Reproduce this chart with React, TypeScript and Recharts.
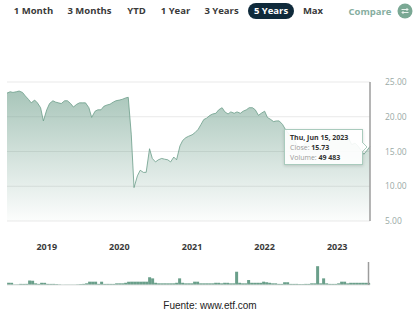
import React from "react";
import {
  AreaChart,
  Area,
  XAxis,
  YAxis,
  CartesianGrid,
  ReferenceLine,
  BarChart,
  Bar,
} from "recharts";

// Semi-monthly observation dates (1st and 15th), Jun 15 2018 .. Jun 15 2023
const dates: string[] = (() => {
  const out: string[] = ["2018-06-15"];
  for (let y = 2018; y <= 2023; y++) {
    for (let m = 1; m <= 12; m++) {
      for (const d of [1, 15]) {
        const s = `${y}-${String(m).padStart(2, "0")}-${String(d).padStart(2, "0")}`;
        if (s > "2018-06-15" && s <= "2023-06-15") out.push(s);
      }
    }
  }
  return out;
})();

const closes2018 = [23.4, 23.6, 23.5, 23.6, 23.7, 23.5, 23.0, 22.5, 22.0, 22.4, 22.0, 21.3, 19.4];
const closes2019 = [21.0, 21.9, 22.3, 22.1, 22.0, 21.9, 22.3, 22.3, 21.9, 21.4, 21.8, 22.0, 22.0, 22.0, 21.3, 19.9, 20.8, 21.0, 21.0, 21.5, 21.7, 21.8, 22.1, 22.3];
const closes2020 = [22.4, 22.5, 22.7, 22.8, 17.5, 9.8, 11.5, 12.3, 12.0, 12.0, 15.4, 14.0, 13.5, 13.8, 14.0, 13.9, 13.8, 13.5, 14.2, 13.8, 15.8, 16.6, 17.0, 17.2];
const closes2021 = [17.4, 17.7, 18.2, 18.9, 19.6, 19.8, 20.2, 20.4, 20.5, 21.0, 21.3, 20.7, 20.4, 20.7, 20.5, 20.7, 20.5, 20.8, 21.0, 21.3, 21.3, 21.0, 20.2, 20.5];
const closes2022 = [20.8, 19.9, 19.6, 19.3, 19.4, 19.4, 18.9, 18.2, 17.6, 17.0, 16.6, 15.8, 15.5, 15.8, 16.5, 17.0, 16.5, 16.0, 15.4, 15.8, 16.6, 17.0, 17.2, 16.8];
const closes2023 = [16.8, 17.4, 17.5, 17.2, 16.8, 16.0, 16.2, 15.8, 15.2, 14.6, 15.2, 15.73];
const closes = [...closes2018, ...closes2019, ...closes2020, ...closes2021, ...closes2022, ...closes2023];

const volumes = [
  51200, 49800, 12800, 13100, 25400, 24700, 25900, 101300, 98700, 37900, 25100, 50300, 49200,
  25600, 24800, 25300, 20100, 12400, 7600, 7400, 7700, 7500, 7300, 12600, 19800, 25200, 37800, 75400, 74900, 75100, 25300, 74700, 24900, 25400, 25100, 24800, 37400, 37700, 37600,
  50100, 74800, 75300, 74900, 75200, 74600, 75400, 74900, 175300, 149800, 50200, 37600, 37400, 37800, 37300, 37500, 37700, 49900, 150400, 50100, 37400, 37600, 37500,
  75200, 74800, 37600, 37400, 37700, 37300, 37600, 50200, 49800, 37500, 50300, 49700, 37400, 37800, 300200, 50100, 37600, 37500, 112400, 50300, 49900, 50200, 49800,
  75100, 62300, 50100, 37600, 37400, 25200, 24900, 62600, 62400, 25100, 24800, 25300, 20200, 19900, 25100, 24900, 37600, 37400, 425300, 37500, 150200, 37700, 25200, 24800, 25100, 37300,
  75200, 74900, 37600, 50100, 49900, 50300, 49800, 50200, 49700, 49483,
];

const yTicks = [5, 10, 15, 20, 25];
const yearTicks = [2019, 2020, 2021, 2022, 2023];
const ranges = ["1 Month", "3 Months", "YTD", "1 Year", "3 Years", "5 Years", "Max"];
const selectedRange = "5 Years";

const ts = (s: string) => {
  const [y, m, d] = s.split("-").map(Number);
  return Date.UTC(y, m - 1, d);
};

const priceData = dates.map((d, i) => ({ t: ts(d), close: closes[i] }));
const volumeData = dates.map((d, i) => ({ date: d, volume: volumes[i] }));
const yearTs = yearTicks.map((y) => Date.UTC(y, 0, 1));

const last = dates.length - 1;
const dayNames = ["Sun", "Mon", "Tue", "Wed", "Thu", "Fri", "Sat"];
const monNames = ["Jan", "Feb", "Mar", "Apr", "May", "Jun", "Jul", "Aug", "Sep", "Oct", "Nov", "Dec"];
const lastDate = new Date(ts(dates[last]));
const tipTitle = `${dayNames[lastDate.getUTCDay()]}, ${monNames[lastDate.getUTCMonth()]} ${lastDate.getUTCDate()}, ${lastDate.getUTCFullYear()}`;
const fmtVol = (v: number) => String(v).replace(/\B(?=(\d{3})+(?!\d))/g, " ");

const btnCenters = [33.5, 89.5, 136.5, 175.5, 221.5, 271, 313];
const GREEN = "#6b9d89";

export default function App() {
  return (
    <div style={{ position: "absolute", left: 0, top: 0, width: 420, height: 314, background: "#fff", overflow: "hidden" }}>
      {ranges.map((r, i) => {
        const sel = r === selectedRange;
        return (
          <div
            key={r}
            style={{
              position: "absolute",
              left: btnCenters[i] - 30,
              width: 60,
              top: 2,
              height: 18,
              display: "flex",
              alignItems: "center",
              justifyContent: "center",
            }}
          >
            <span
              style={{
                fontFamily: "'Open Sans', sans-serif",
                fontWeight: 700,
                fontSize: 9.5,
                color: sel ? "#ffffff" : "#3a3a3a",
                background: sel ? "#0f2a3b" : "transparent",
                borderRadius: 8,
                padding: sel ? "2px 6px" : 0,
                lineHeight: "12px",
                whiteSpace: "nowrap",
              }}
            >
              {r}
            </span>
          </div>
        );
      })}
      <div
        style={{
          position: "absolute",
          left: 340,
          width: 60,
          top: 2,
          height: 18,
          display: "flex",
          alignItems: "center",
          justifyContent: "center",
          fontFamily: "'Open Sans', sans-serif",
          fontWeight: 700,
          fontSize: 9.5,
          color: "#86ae9f",
        }}
      >
        Compare
      </div>
      <svg style={{ position: "absolute", left: 397, top: 3 }} width={16} height={16}>
        <circle cx={8} cy={8} r={7.5} fill="#7aa894" />
        <path d="M4.5 6.5 H11 M9.5 5 L11 6.5 L9.5 8 M11.5 9.5 H5 M6.5 8 L5 9.5 L6.5 11" stroke="#e8f1ec" strokeWidth={1} fill="none" />
      </svg>

      <div style={{ position: "absolute", left: 0, top: 0 }}>
        <AreaChart width={420} height={260} data={priceData} margin={{ top: 82, right: 0, bottom: 9, left: 7 }}>
          <defs>
            <linearGradient id="areaFill" x1="0" y1="0" x2="0" y2="1">
              <stop offset="0%" stopColor={GREEN} stopOpacity={0.98} />
              <stop offset="55%" stopColor={GREEN} stopOpacity={0.45} />
              <stop offset="100%" stopColor={GREEN} stopOpacity={0.03} />
            </linearGradient>
          </defs>
          <CartesianGrid horizontal vertical={false} stroke="#e9e9e9" />
          <XAxis
            dataKey="t"
            type="number"
            scale="time"
            domain={["dataMin", "dataMax"]}
            ticks={yearTs}
            tickFormatter={(v: number) => String(new Date(v).getUTCFullYear())}
            axisLine={false}
            tickLine={false}
            tickMargin={17}
            height={30}
            tick={{ fontSize: 9, fontWeight: 700, fill: "#3a3a3a", fontFamily: "'Open Sans', sans-serif" }}
          />
          <YAxis
            orientation="right"
            domain={[5, 25]}
            ticks={yTicks}
            tickFormatter={(v: number) => v.toFixed(2)}
            axisLine={false}
            tickLine={false}
            tickMargin={9}
            width={50}
            tick={{ fontSize: 8.5, fill: "#9aaaa6", fontFamily: "'Open Sans', sans-serif" }}
          />
          <Area
            type="linear"
            dataKey="close"
            stroke={GREEN}
            strokeWidth={0.8}
            fill="url(#areaFill)"
            isAnimationActive={false}
            dot={false}
            activeDot={false}
          />
          <ReferenceLine x={priceData[last].t} stroke="#9c9c9c" strokeWidth={1.5} />
        </AreaChart>
      </div>

      <div style={{ position: "absolute", left: 0, top: 258 }}>
        <BarChart width={420} height={30} data={volumeData} margin={{ top: 4, right: 50, bottom: 3, left: 7 }} barCategoryGap="4%">
          <XAxis dataKey="date" hide />
          <YAxis hide domain={[0, 520000]} />
          <ReferenceLine y={0} stroke="#e3e3e3" />
          <Bar dataKey="volume" fill="#6a9f8a" isAnimationActive={false} />
          <ReferenceLine x={dates[last]} stroke="#9c9c9c" strokeWidth={1.5} />
        </BarChart>
      </div>

      <div
        style={{
          position: "absolute",
          left: 284,
          top: 129,
          width: 79,
          height: 36,
          boxSizing: "border-box",
          border: "1px solid #a9cbbd",
          background: "rgba(255,255,255,0.9)",
          boxShadow: "0 1px 3px rgba(0,0,0,0.15)",
          padding: "3px 0 0 5px",
          fontFamily: "'Open Sans', sans-serif",
          fontSize: 7,
          lineHeight: "10px",
          color: "#333",
          whiteSpace: "nowrap",
        }}
      >
        <div style={{ fontWeight: 700 }}>{tipTitle}</div>
        <div>
          <span style={{ color: "#9a9a9a" }}>Close: </span>
          <span style={{ fontWeight: 700 }}>{closes[last].toFixed(2)}</span>
        </div>
        <div>
          <span style={{ color: "#9a9a9a" }}>Volume: </span>
          <span style={{ fontWeight: 700 }}>{fmtVol(volumes[last])}</span>
        </div>
      </div>
      <svg style={{ position: "absolute", left: 362, top: 142 }} width={6} height={10}>
        <path d="M0 0 L5 5 L0 10" fill="rgba(255,255,255,0.95)" stroke="#a9cbbd" strokeWidth={1} />
      </svg>

      <div
        style={{
          position: "absolute",
          left: 0,
          width: 420,
          top: 300,
          textAlign: "center",
          fontFamily: "'Liberation Sans', Arial, sans-serif",
          fontSize: 10,
          color: "#222",
        }}
      >
        Fuente: www.etf.com
      </div>
    </div>
  );
}
